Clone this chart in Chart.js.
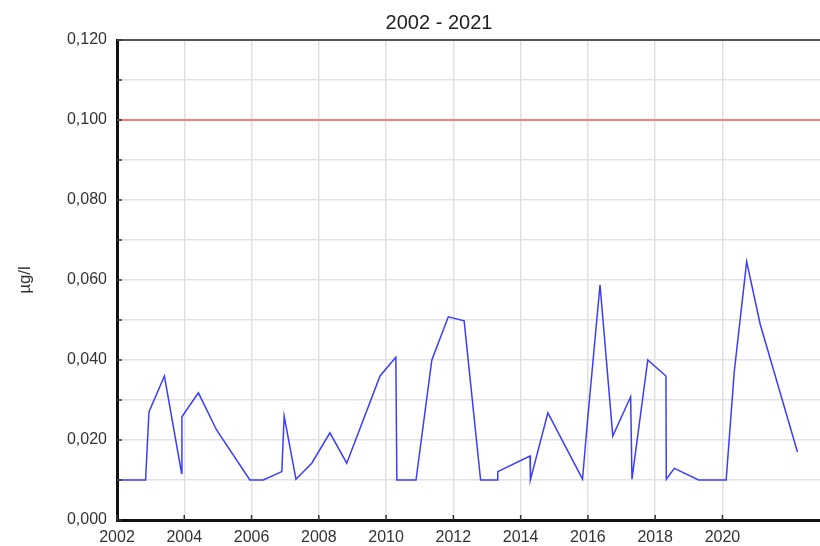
<!DOCTYPE html>
<html>
<head>
<meta charset="utf-8">
<script src="https://cdn.jsdelivr.net/npm/chart.js@4"></script>
<style>
  html, body { margin: 0; padding: 0; background: #fff; overflow: hidden; }
  canvas { display: block; }
</style>
</head>
<body>
<canvas id="chart" width="820" height="546"></canvas>
<script>
// measurements, year (decimal) and value in µg/l
const years = [2002.0, 2002.85, 2002.95, 2003.41, 2003.92, 2003.93, 2004.42, 2004.96, 2005.95, 2006.35,
  2006.9, 2006.97, 2007.32, 2007.79, 2008.33, 2008.83, 2009.82, 2010.29, 2010.32, 2010.89,
  2011.36, 2011.85, 2012.32, 2012.81, 2013.31, 2013.32, 2014.28, 2014.29, 2014.81, 2015.84,
  2015.98, 2016.36, 2016.74, 2017.27, 2017.31, 2017.78, 2018.32, 2018.33, 2018.57, 2019.29,
  2020.11, 2020.35, 2020.72, 2021.12, 2022.23];
const values = [0.010, 0.010, 0.027, 0.036, 0.0117, 0.0258, 0.0318, 0.0225, 0.010, 0.010,
  0.0121, 0.026, 0.0102, 0.0142, 0.0218, 0.0142, 0.036, 0.0407, 0.010, 0.010,
  0.040, 0.0508, 0.0498, 0.010, 0.010, 0.0121, 0.016, 0.010, 0.0268, 0.0102,
  0.024, 0.0588, 0.021, 0.0308, 0.0102, 0.040, 0.036, 0.0102, 0.0129, 0.010,
  0.010, 0.037, 0.0646, 0.049, 0.017];

// limit value line
const limitYears = [2002, 2022.9];
const limitValues = [0.1, 0.1];

const title = "2002 - 2021";
const yTitle = "µg/l";
const xMin = 2002, xMax = 2022.9, xLastTick = 2020;
const yMin = 0, yMax = 0.12;

const font = "'Liberation Sans', Arial, sans-serif";

// title, top frame line and inward tick marks
const frame = {
  id: "frame",
  afterDraw(chart) {
    const ctx = chart.ctx;
    const a = chart.chartArea;
    const xs = chart.scales.x, ys = chart.scales.y;
    ctx.save();
    ctx.strokeStyle = "#555";
    ctx.lineWidth = 2;
    ctx.beginPath();
    ctx.moveTo(a.left, a.top);
    ctx.lineTo(a.right, a.top);
    ctx.stroke();

    ctx.strokeStyle = "#333";
    ctx.lineWidth = 1.5;
    ys.ticks.forEach(t => {
      const y = ys.getPixelForValue(t.value);
      ctx.beginPath();
      ctx.moveTo(a.left, y);
      ctx.lineTo(a.left + 5, y);
      ctx.stroke();
    });
    xs.ticks.forEach(t => {
      const x = xs.getPixelForValue(t.value);
      ctx.beginPath();
      ctx.moveTo(x, a.bottom);
      ctx.lineTo(x, a.bottom - 5);
      ctx.stroke();
    });

    ctx.fillStyle = "#222";
    ctx.font = "20px " + font;
    ctx.textAlign = "center";
    ctx.textBaseline = "middle";
    ctx.fillText(title, 439, 23);
    ctx.restore();
  }
};

new Chart(document.getElementById("chart"), {
  type: "line",
  data: {
    datasets: [
      {
        data: limitYears.map((x, i) => ({ x: x, y: limitValues[i] })),
        borderColor: "#ff7a7a",
        borderWidth: 2,
        pointRadius: 0
      },
      {
        data: years.map((x, i) => ({ x: x, y: values[i] })),
        borderColor: "#3c3cff",
        borderWidth: 1.5,
        pointRadius: 0,
        tension: 0
      }
    ]
  },
  options: {
    responsive: false,
    animation: false,
    devicePixelRatio: 1,
    layout: { padding: { top: 40, right: 0, left: 0, bottom: 0 } },
    plugins: {
      legend: { display: false },
      tooltip: { enabled: false },
      title: { display: false }
    },
    scales: {
      x: {
        type: "linear",
        min: xMin,
        max: xMax,
        afterBuildTicks: s => { s.ticks = s.ticks.filter(t => t.value <= xLastTick); },
        afterFit: s => { s.height = 26; },
        ticks: {
          stepSize: 2,
          padding: 8,
          color: "#333",
          font: { family: font, size: 16 },
          maxRotation: 0,
          callback: v => String(v)
        },
        grid: { color: "#e2e2e2", lineWidth: 1.5, drawTicks: false },
        border: { color: "#111", width: 3 }
      },
      y: {
        min: yMin,
        max: yMax,
        afterFit: s => { s.width = 117; },
        ticks: {
          stepSize: 0.01,
          padding: 10,
          color: "#333",
          font: { family: font, size: 16 },
          callback: v => Math.round(v * 100) % 2 === 0 ? v.toFixed(3).replace(".", ",") : ""
        },
        grid: { color: "#e2e2e2", lineWidth: 1.5, drawTicks: false },
        border: { color: "#111", width: 3 },
        title: {
          display: true,
          text: yTitle,
          color: "#333",
          font: { family: font, size: 17 },
          padding: { top: 15, bottom: 0 }
        }
      }
    }
  },
  plugins: [frame]
});
</script>
</body>
</html>
